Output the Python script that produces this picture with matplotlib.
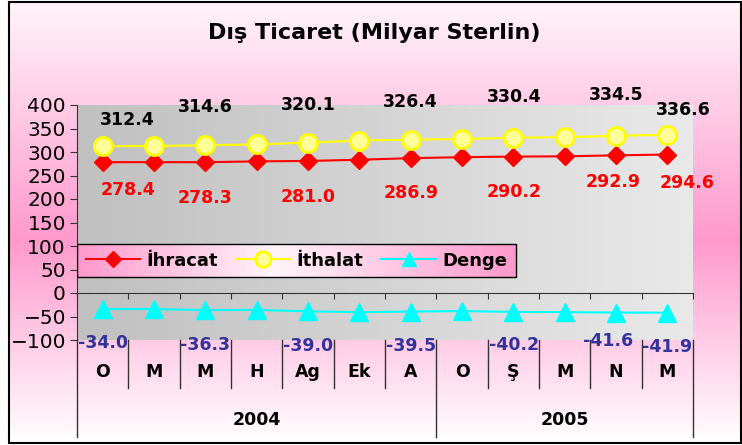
import numpy as np
import matplotlib
matplotlib.use("Agg")
import matplotlib.pyplot as plt
from matplotlib.colors import LinearSegmentedColormap
from matplotlib.patches import Rectangle
from matplotlib.transforms import blended_transform_factory

plt.rcParams['font.family'] = ['DejaVu Sans']

months = ["O", "M", "M", "H", "Ag", "Ek", "A", "O", "Ş", "M", "N", "M"]
years = ["2004", "2005"]
year_spans = [(0, 6), (7, 11)]
ihracat = [278.4, 278.4, 278.3, 280.0, 281.0, 283.5, 286.9, 289.0, 290.2, 290.8, 292.9, 294.6]
ithalat = [312.4, 312.6, 314.6, 316.0, 320.1, 324.2, 326.4, 327.5, 330.4, 331.5, 334.5, 336.6]
denge = [-34.0, -34.2, -36.3, -36.0, -39.0, -40.7, -39.5, -38.5, -40.2, -40.7, -41.6, -41.9]

# which points get a value label, and where (pixel offsets)
lab_idx = [0, 2, 4, 6, 8, 10, 11]
off_ith = [(25, 26), (0, 38), (0, 38), (0, 38), (1, 41), (0, 41), (16, 25)]
off_ihr = [(25, -28), (0, -36), (0, -36), (0, -35), (1, -35), (-3, -27), (20, -28)]
off_den = [(0, -34), (0, -35), (0, -35), (0, -34), (1, -33), (-8, -28), (0, -34)]

fig = plt.figure(figsize=(7.42, 4.45), dpi=100)

# chart background
bg = fig.add_axes([0, 0, 1, 1], zorder=-10)
bg.set_xlim(0, 742)
bg.set_ylim(445, 0)
bg.axis("off")
pink = LinearSegmentedColormap.from_list(
    "pk", [(0, "#fff4fa"), (0.54, "#ff99cc"), (1, "#ffffff")])
bg.imshow(np.linspace(0, 1, 256).reshape(-1, 1), cmap=pink, aspect="auto",
          extent=(9, 741, 443, 2))
bg.add_patch(Rectangle((9, 2), 732, 441, fill=False, ec="black", lw=1.5))
bg.text(374, 33, "Dış Ticaret (Milyar Sterlin)", ha="center", va="center",
        fontsize=16, fontweight="bold")

ax = fig.add_axes([77 / 742, 105 / 445, 616 / 742, 235 / 445])
ax.patch.set_visible(False)
gray = LinearSegmentedColormap.from_list("gr", ["#c0c0c0", "#e9e9e9"])
ax.imshow(np.linspace(0, 1, 256).reshape(1, -1), cmap=gray, aspect="auto",
          extent=(0, 1, 0, 1), transform=ax.transAxes, zorder=0)

x = np.arange(len(months))
l1, = ax.plot(x, ihracat, color="red", lw=1.5, marker="D", ms=9.5,
              mfc="red", mec="red", zorder=4, label="İhracat")
l2, = ax.plot(x, ithalat, color="#ffff00", lw=1.5, marker="o", ms=13,
              mfc="#ffff99", mec="#ffff00", mew=2, zorder=4, label="İthalat")
l3, = ax.plot(x, denge, color="cyan", lw=1.5, marker="^", ms=12.5,
              mfc="cyan", mec="cyan", zorder=4, label="Denge")

ax.set_xlim(-0.5, 11.5)
ax.set_ylim(-100, 400)
ax.set_yticks(np.arange(-100, 401, 50))
ax.set_xticks(np.arange(-0.5, 12, 1))
ax.set_xticklabels([])
ax.tick_params(axis="y", labelsize=14.5, length=5, pad=3, color="#333333")
ax.tick_params(axis="x", length=4, color="#333333", direction="out")
for s in ["top", "right"]:
    ax.spines[s].set_visible(False)
ax.spines["bottom"].set_position(("data", 0))
ax.spines["bottom"].set_color("#333333")
ax.spines["left"].set_color("#333333")

for series, offs, col in [(ithalat, off_ith, "black"), (ihracat, off_ihr, "red"),
                          (denge, off_den, "#333399")]:
    for i, (dx, dy) in zip(lab_idx, offs):
        ax.annotate(f"{series[i]:.1f}", (i, series[i]), xytext=(dx, dy),
                    textcoords="offset pixels", ha="center", va="center",
                    fontsize=12.5, fontweight="bold", color=col,
                    zorder=6, annotation_clip=False)

# multi-level category labels under the plot
tr = blended_transform_factory(ax.transData, ax.transAxes)
for i, m in enumerate(months):
    ax.text(i, -0.136, m, transform=tr, ha="center", va="center",
            fontsize=12.5, fontweight="bold")
for xd in np.arange(-0.5, 12, 1):
    bottom = -0.413 if xd in (-0.5, 6.5, 11.5) else -0.204
    ax.plot([xd, xd], [0, bottom], transform=tr, color="#333333", lw=1,
            clip_on=False)
for yr, (a, b) in zip(years, year_spans):
    ax.text((a + b) / 2, -0.34, yr, transform=tr, ha="center", va="center",
            fontsize=12.5, fontweight="bold")

# legend box with gradient fill
lx1 = (516 - 77) / 616
ly0, ly1 = (340 - 277) / 235, (340 - 244) / 235
lg = LinearSegmentedColormap.from_list(
    "lg", [(0, "#ff99cc"), (0.45, "#fff4fa"), (1, "#ff99cc")])
ax.imshow(np.linspace(0, 1, 256).reshape(1, -1), cmap=lg, aspect="auto",
          extent=(0, lx1, ly0, ly1), transform=ax.transAxes, zorder=2.5)
ax.add_patch(Rectangle((0, ly0), lx1, ly1 - ly0, transform=ax.transAxes,
                       fill=False, ec="black", lw=1, zorder=3))
leg = ax.legend(handles=[l1, l2, l3], loc="center",
                bbox_to_anchor=(lx1 / 2, (ly0 + ly1) / 2), ncol=3,
                frameon=False, prop={"size": 13, "weight": "bold"},
                handlelength=3.0, handletextpad=0.35, columnspacing=1.0,
                markerscale=0.85)
leg.set_zorder(5)

ax.set_xlim(-0.5, 11.5)
ax.set_ylim(-100, 400)
fig.savefig("out.png", dpi=100)
